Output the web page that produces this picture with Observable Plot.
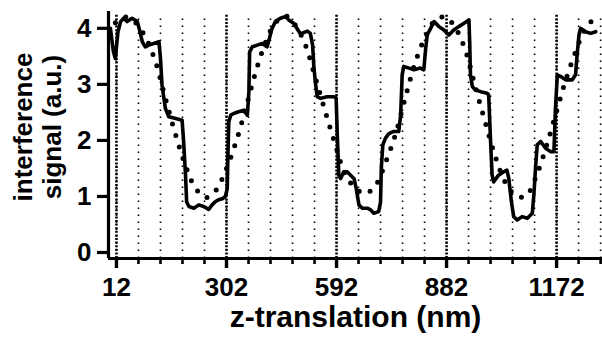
<!DOCTYPE html>
<html>
<head>
<meta charset="utf-8">
<script src="https://cdn.jsdelivr.net/npm/d3@7"></script>
<script src="https://cdn.jsdelivr.net/npm/@observablehq/plot@0.6"></script>
<style>
  html, body { margin: 0; padding: 0; background: #fff; }
  svg { display: block; }
</style>
</head>
<body>
<div id="chart"></div>
<script>
// Measured interference signal (solid line): z-translation (nm) and signal (a.u.)
const measuredZ = [-4, 4, 9, 16, 23, 31, 40, 53, 67, 75, 80, 88, 97, 110, 124, 128, 132, 137, 141, 150, 168, 185, 189, 194, 197, 203, 216, 229, 242, 255, 264, 273, 281, 291, 299, 304, 305.5, 308, 313, 321, 334, 348, 357, 361, 363, 370, 383, 396, 409, 414, 422, 431, 444, 458, 466, 479, 497, 515, 523, 529, 532, 536, 541, 550, 567, 585, 591, 594, 598, 603, 611, 620, 629, 638, 644, 651, 660, 673, 682, 690, 703, 708, 710, 714, 721, 730, 743, 756, 761, 765, 769, 783, 796, 813, 822, 827, 831, 840, 849, 862, 875, 888, 901, 914, 928, 941, 943, 945, 950, 958, 972, 989, 993, 998, 1002, 1006, 1019, 1033, 1041, 1046, 1053, 1059, 1068, 1081, 1095, 1108, 1112, 1117, 1121, 1130, 1143, 1156, 1165, 1169, 1174, 1183, 1196, 1213, 1222, 1226, 1231, 1235, 1248, 1262, 1275];
const measuredSignal = [4.00, 3.58, 3.46, 3.94, 4.12, 4.18, 4.12, 4.18, 4.12, 3.91, 3.76, 3.67, 3.70, 3.73, 3.76, 3.46, 2.99, 2.75, 2.57, 2.42, 2.39, 2.36, 1.98, 1.38, 0.90, 0.82, 0.79, 0.85, 0.82, 0.77, 0.85, 0.91, 0.94, 0.96, 1.00, 1.14, 1.68, 2.33, 2.45, 2.48, 2.51, 2.54, 2.45, 2.87, 3.58, 3.67, 3.70, 3.73, 3.67, 3.79, 4.00, 4.12, 4.18, 4.21, 4.15, 4.09, 3.90, 3.95, 3.91, 3.70, 3.34, 3.05, 2.78, 2.75, 2.78, 2.78, 2.75, 2.10, 1.38, 1.32, 1.44, 1.44, 1.38, 1.32, 1.14, 0.85, 0.79, 0.79, 0.76, 0.70, 0.73, 0.90, 1.50, 1.92, 2.04, 2.12, 2.16, 2.16, 2.45, 3.17, 3.32, 3.29, 3.26, 3.29, 3.26, 3.64, 3.88, 4.00, 4.12, 4.03, 3.97, 3.88, 3.97, 4.03, 4.09, 4.15, 3.76, 3.17, 2.96, 2.90, 2.87, 2.84, 2.81, 1.98, 1.38, 1.26, 1.38, 1.44, 1.47, 1.32, 0.90, 0.64, 0.58, 0.64, 0.61, 0.70, 1.02, 1.56, 1.92, 1.98, 1.86, 1.80, 1.80, 2.57, 3.17, 3.14, 3.08, 3.08, 3.17, 3.52, 3.88, 4.00, 3.94, 3.91, 3.94];

// Fitted curve (dotted line)
const fitZ = [9, 36, 62, 88, 115, 141, 168, 194, 220, 247, 273, 299, 326, 352, 378, 405, 431, 458, 484, 510, 537, 563, 589, 616, 642, 668, 695, 721, 747, 774, 800, 826, 853, 879, 906, 932, 958, 985, 1011, 1037, 1064, 1090, 1116, 1143, 1169, 1195, 1222, 1248, 1275];
const fitSignal = [4.10, 4.20, 4.10, 3.85, 3.40, 2.75, 2.10, 1.55, 1.15, 0.98, 1.10, 1.45, 1.95, 2.55, 3.20, 3.75, 4.10, 4.22, 4.05, 3.70, 3.10, 2.50, 1.92, 1.38, 1.15, 1.05, 1.20, 1.60, 2.10, 2.78, 3.40, 3.85, 4.15, 4.20, 4.00, 3.60, 2.95, 2.30, 1.70, 1.25, 1.02, 1.00, 1.32, 1.85, 2.45, 3.05, 3.58, 4.00, 4.20];

// Axis ticks
const majorTicks = [12, 302, 592, 882, 1172];
const majorTickLabels = ["12", "302", "592", "882", "1172"];
const minorTicks = [12, 70, 128, 186, 244, 302, 360, 418, 476, 534, 592, 650, 708, 766, 824, 882, 940, 998, 1056, 1114, 1172, 1230, 1288];
const yTicks = [0, 1, 2, 3, 4];
const yTickLabels = ["0", "1", "2", "3", "4"];

const xTitle = "z-translation (nm)";
const yTitle = "interference\nsignal (a.u.)";

const xDomain = [-9, 1293];
const yDomain = [-0.107, 4.3];
const gridTop = 4.25;

const measured = measuredZ.map((z, i) => ({z, s: measuredSignal[i]}));
const fit = fitZ.map((z, i) => ({z, s: fitSignal[i]}));

const font = "'Liberation Sans', Arial, Helvetica, sans-serif";

const chart = Plot.plot({
  width: 602,
  height: 337,
  marginLeft: 108,
  marginRight: 0,
  marginTop: 11,
  marginBottom: 79,
  style: {fontFamily: font, fontWeight: "bold", background: "#fff", color: "#000", overflow: "visible"},
  x: {domain: xDomain},
  y: {domain: yDomain},
  marks: [
    // dotted guide lines
    Plot.ruleX(minorTicks, {y1: yDomain[0], y2: gridTop, stroke: "#000", strokeWidth: 1.6, strokeDasharray: "1.6,5.4"}),
    Plot.ruleX(majorTicks, {y1: yDomain[0], y2: gridTop, stroke: "#000", strokeWidth: 2.6, strokeDasharray: "2,1.6"}),
    // fitted curve (dotted)
    Plot.line(fit, {x: "z", y: "s", curve: "catmull-rom", stroke: "#000", strokeWidth: 5, strokeDasharray: "0,12", strokeLinecap: "round"}),
    // measured signal (solid)
    Plot.line(measured, {x: "z", y: "s", stroke: "#000", strokeWidth: 3.6, strokeLinejoin: "round"}),
    // axes lines
    Plot.ruleY([yDomain[0]], {stroke: "#000", strokeWidth: 3.2}),
    Plot.ruleX([xDomain[0]], {stroke: "#000", strokeWidth: 3.2}),
    // ticks
    Plot.axisX(minorTicks, {tickSize: 6, strokeWidth: 2.6, text: null, label: null}),
    Plot.axisX(majorTicks, {tickSize: 10, strokeWidth: 3.4, tickPadding: 9, fontSize: 26, fontWeight: "bold",
      tickFormat: (d) => majorTickLabels[majorTicks.indexOf(d)], label: null}),
    Plot.axisY(yTicks, {tickSize: 11, strokeWidth: 3.2, tickPadding: 6, fontSize: 26, fontWeight: "bold",
      tickFormat: (d) => yTickLabels[yTicks.indexOf(d)], label: null}),
    // titles
    Plot.text([xTitle], {frameAnchor: "bottom", dy: 59, fontSize: 30, fontWeight: "bold", lineAnchor: "middle", textAnchor: "middle"}),
    Plot.text([yTitle], {frameAnchor: "left", dx: -71, dy: -8, rotate: -90, fontSize: 26, fontWeight: "bold", lineAnchor: "middle", textAnchor: "middle", lineHeight: 1.12})
  ]
});
document.getElementById("chart").appendChild(chart);
</script>
</body>
</html>
